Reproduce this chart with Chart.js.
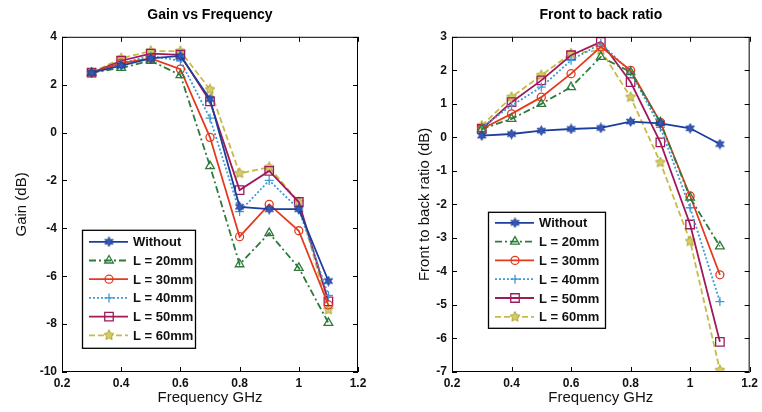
<!DOCTYPE html>
<html>
<head>
<meta charset="utf-8">
<script src="https://cdn.jsdelivr.net/npm/chart.js@4.4.0/dist/chart.umd.min.js"></script>
<style>
  html, body { margin: 0; padding: 0; background: #fff; overflow: hidden; }
  #wrap { position: relative; width: 762px; height: 412px; }
  canvas { position: absolute; top: 0; }
  #gain { left: 0; }
  #fb { left: 381px; }
</style>
</head>
<body>
<div id="wrap">
  <canvas id="gain" width="381" height="412"></canvas>
  <canvas id="fb" width="381" height="412"></canvas>
</div>
<script>
// frequency points (GHz)
const freqGHz = [0.3, 0.4, 0.5, 0.6, 0.7, 0.8, 0.9, 1.0, 1.1];

const seriesNames = ['Without', 'L = 20mm', 'L = 30mm', 'L = 40mm', 'L = 50mm', 'L = 60mm'];

// Gain (dB)
const gainWithout = [2.5, 2.8, 3.1, 3.2, 1.4, -3.1, -3.2, -3.2, -6.2];
const gainL20 = [2.5, 2.7, 3.0, 2.4, -1.4, -5.5, -4.2, -5.65, -7.95];
const gainL30 = [2.5, 2.9, 3.1, 2.65, -0.2, -4.35, -3.0, -4.1, -7.2];
const gainL40 = [2.5, 2.9, 3.2, 3.0, 0.6, -3.3, -2.0, -3.2, -6.8];
const gainL50 = [2.5, 3.0, 3.3, 3.25, 1.3, -2.4, -1.6, -2.9, -7.05];
const gainL60 = [2.5, 3.1, 3.4, 3.4, 1.8, -1.7, -1.45, -2.9, -7.4];

// Front to back ratio (dB)
const fbWithout = [0.05, 0.1, 0.2, 0.25, 0.28, 0.47, 0.42, 0.27, -0.2];
const fbL20 = [0.25, 0.55, 1.0, 1.5, 2.4, 1.95, 0.45, -1.8, -3.25];
const fbL30 = [0.25, 0.7, 1.2, 1.9, 2.7, 2.0, 0.45, -1.75, -4.1];
const fbL40 = [0.3, 0.95, 1.5, 2.3, 2.8, 1.95, 0.3, -2.1, -4.9];
const fbL50 = [0.25, 1.05, 1.7, 2.45, 2.85, 1.65, -0.15, -2.6, -6.1];
const fbL60 = [0.35, 1.2, 1.85, 2.5, 2.6, 1.2, -0.75, -3.1, -6.95];

const gainTicks = { min: -10, max: 4, step: 2 };
const fbTicks = { min: -7, max: 3, step: 1 };
const freqTicks = { min: 0.2, max: 1.2, step: 0.2 };

// marker images for the star shaped markers
function starMarker(points, fill, stroke, size) {
  const c = document.createElement('canvas');
  c.width = c.height = size;
  const g = c.getContext('2d');
  const r = size / 2 - 0.7, ri = r * 0.5;
  g.beginPath();
  for (let k = 0; k < points * 2; k++) {
    const a = -Math.PI / 2 + k * Math.PI / points;
    const rr = k % 2 ? ri : r;
    const px = size / 2 + rr * Math.cos(a), py = size / 2 + rr * Math.sin(a);
    k ? g.lineTo(px, py) : g.moveTo(px, py);
  }
  g.closePath();
  g.fillStyle = fill; g.fill();
  g.strokeStyle = stroke; g.lineWidth = 1; g.stroke();
  return c;
}

const styles = [
  { color: '#1d3f9c', dash: [], point: starMarker(6, '#3557b8', '#1d3f9c', 11), radius: 5 },
  { color: '#2f7a3c', dash: [7, 3, 2, 3], point: 'triangle', radius: 5 },
  { color: '#e63a1e', dash: [], point: 'circle', radius: 4 },
  { color: '#3d9ad6', dash: [2, 2], point: 'cross', radius: 4.5 },
  { color: '#a01a5a', dash: [], point: 'rect', radius: 6 },
  { color: '#c8bb45', dash: [6, 3], point: starMarker(5, '#d6cc6a', '#b0a434', 12), radius: 6 }
];

function makeDatasets(arrays) {
  return arrays.map((vals, i) => ({
    label: seriesNames[i],
    data: freqGHz.map((f, j) => ({ x: f, y: vals[j] })),
    borderColor: styles[i].color,
    borderWidth: 1.8,
    borderDash: styles[i].dash,
    pointStyle: styles[i].point,
    pointRadius: styles[i].radius,
    pointBorderColor: styles[i].color,
    pointBorderWidth: 1.3,
    pointBackgroundColor: 'rgba(0,0,0,0)',
    fill: false,
    tension: 0
  }));
}

// MATLAB style axes box, inward ticks and boxed legend inside the plot
const boxPlugin = {
  id: 'matlabBox',
  afterDraw(chart, args, opts) {
    const { ctx, chartArea: a, scales } = chart;
    ctx.save();
    ctx.strokeStyle = '#000';
    ctx.lineWidth = 1;
    ctx.setLineDash([]);
    ctx.strokeRect(a.left + 0.5, a.top + 0.5, a.width - 1, a.height - 1);
    ctx.beginPath();
    scales.x.ticks.forEach(t => {
      const px = Math.round(scales.x.getPixelForValue(t.value)) + 0.5;
      ctx.moveTo(px, a.bottom); ctx.lineTo(px, a.bottom - 5);
      ctx.moveTo(px, a.top); ctx.lineTo(px, a.top + 5);
    });
    scales.y.ticks.forEach(t => {
      const py = Math.round(scales.y.getPixelForValue(t.value)) + 0.5;
      ctx.moveTo(a.left, py); ctx.lineTo(a.left + 5, py);
      ctx.moveTo(a.right, py); ctx.lineTo(a.right - 5, py);
    });
    ctx.stroke();

    // legend
    const L = opts.legend;
    const x0 = a.left + L.dx, y0 = a.top + L.dy;
    ctx.fillStyle = '#fff';
    ctx.fillRect(x0, y0, L.w, L.h);
    ctx.lineWidth = 1.3;
    ctx.strokeRect(x0 + 0.5, y0 + 0.5, L.w, L.h);
    ctx.font = 'bold 13px "Liberation Sans", Arial, sans-serif';
    ctx.textBaseline = 'middle';
    chart.data.datasets.forEach((ds, i) => {
      const cy = y0 + L.first + i * L.row;
      ctx.strokeStyle = ds.borderColor;
      ctx.lineWidth = ds.borderWidth;
      ctx.setLineDash(ds.borderDash);
      ctx.beginPath();
      ctx.moveTo(x0 + 7, cy); ctx.lineTo(x0 + 46, cy);
      ctx.stroke();
      ctx.setLineDash([]);
      ctx.lineWidth = ds.pointBorderWidth;
      ctx.fillStyle = ds.pointBackgroundColor;
      Chart.helpers.drawPoint(ctx, { pointStyle: ds.pointStyle, radius: ds.pointRadius, borderWidth: ds.pointBorderWidth, rotation: 0 }, x0 + 27, cy);
      ctx.fillStyle = '#111';
      ctx.fillText(ds.label, x0 + 51, cy + 1);
    });
    ctx.restore();
  }
};

const fontFamily = '"Liberation Sans", Arial, sans-serif';

function makeChart(id, title, yTitle, datasets, yt, yWidth, yTitlePad, rightPad, legend) {
  return new Chart(document.getElementById(id), {
    type: 'line',
    data: { datasets },
    plugins: [boxPlugin],
    options: {
      responsive: false,
      animation: false,
      layout: { padding: { right: rightPad, top: 0, bottom: 0, left: 0 } },
      plugins: {
        legend: { display: false },
        tooltip: { enabled: false },
        title: {
          display: true,
          text: title,
          fullSize: false,
          color: '#000',
          font: { family: fontFamily, size: 14, weight: 'bold' },
          padding: { top: 7, bottom: 13 }
        },
        matlabBox: { legend }
      },
      scales: {
        x: {
          type: 'linear',
          min: freqTicks.min,
          max: freqTicks.max,
          grid: { display: false, drawTicks: false },
          border: { display: false },
          ticks: {
            stepSize: freqTicks.step,
            color: '#111',
            padding: 4,
            font: { family: fontFamily, size: 12, weight: 'bold' },
            callback: v => String(+v.toFixed(1))
          },
          title: {
            display: true,
            text: 'Frequency GHz',
            color: '#111',
            font: { family: fontFamily, size: 15 },
            padding: { top: 0, bottom: 5 }
          },
          afterFit: s => { s.height = 40; }
        },
        y: {
          type: 'linear',
          min: yt.min,
          max: yt.max,
          grid: { display: false, drawTicks: false },
          border: { display: false },
          ticks: {
            stepSize: yt.step,
            color: '#111',
            padding: 5,
            font: { family: fontFamily, size: 12, weight: 'bold' }
          },
          title: {
            display: true,
            text: yTitle,
            color: '#111',
            font: { family: fontFamily, size: 15 },
            padding: { top: yTitlePad, bottom: 0 }
          },
          afterFit: s => { s.width = yWidth; }
        }
      }
    }
  });
}

makeChart('gain', 'Gain vs Frequency', 'Gain (dB)',
  makeDatasets([gainWithout, gainL20, gainL30, gainL40, gainL50, gainL60]),
  gainTicks, 62, 13, 23,
  { dx: 20, dy: 193, w: 113, h: 118, first: 12, row: 18.7 });

makeChart('fb', 'Front to back ratio', 'Front to back ratio (dB)',
  makeDatasets([fbWithout, fbL20, fbL30, fbL40, fbL50, fbL60]),
  fbTicks, 71, 35, 10,
  { dx: 36, dy: 175, w: 117, h: 116, first: 11, row: 18.8 });
</script>
</body>
</html>
